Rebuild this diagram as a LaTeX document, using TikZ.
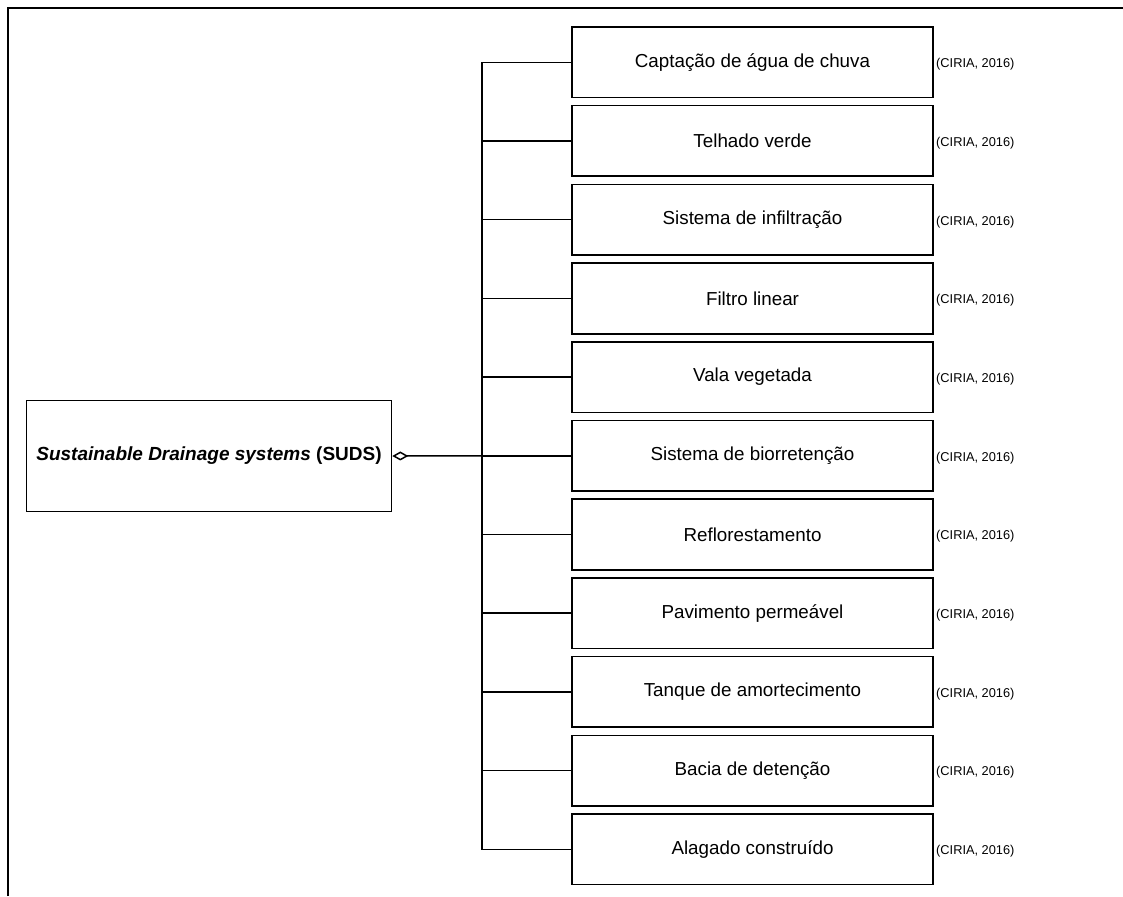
\documentclass[tikz,border=0pt]{standalone}
\usepackage{fontspec}
\setmainfont{Liberation Sans}
\usetikzlibrary{arrows.meta}
\begin{document}
\begin{tikzpicture}[x=1pt,y=-1pt,
  item/.style={draw, line width=1.6pt, minimum width=361pt, minimum height=70.6pt, inner sep=0pt, font=\fontsize{18.8}{22}\selectfont},
  cite/.style={anchor=west, inner sep=0pt, font=\fontsize{12.8}{15}\selectfont},
  conn/.style={line width=1.5pt},
  frame/.style={line width=2.4pt}]
\useasboundingbox (0,0) rectangle (1123,896);
\draw[frame] (8,896) -- (8,8) -- (1123,8);
\node[draw, line width=1.6pt, minimum width=365pt, minimum height=111pt, inner sep=0pt, font=\fontsize{19}{23}\selectfont] (suds) at (209,456) {\textbf{\textit{Sustainable Drainage systems} (SUDS)}};
\foreach \t [count=\i] in {Captação de água de chuva, Telhado verde, Sistema de infiltração, Filtro linear, Vala vegetada, Sistema de biorretenção, Reflorestamento, Pavimento permeável, Tanque de amortecimento, Bacia de detenção, Alagado construído} {
  \node[item] (b\i) at (752.5, {62.3+(\i-1)*78.7}) {\t};
  \node[cite] (c\i) at (936, {64.3+(\i-1)*78.7}) {(CIRIA, 2016)};
}
\coordinate (busTop) at ([xshift=-89pt]b1.west);
\draw[conn] (b1.west) -- (busTop) |- (b11.west);
\foreach \i in {2,...,10} \draw[conn] (b\i.west) -- (b\i.west -| busTop);
\draw[conn, {Diamond[open, length=16pt, width=9pt, line width=1.5pt]}-] (suds.east) -- (b6.west);
\end{tikzpicture}
\end{document}
